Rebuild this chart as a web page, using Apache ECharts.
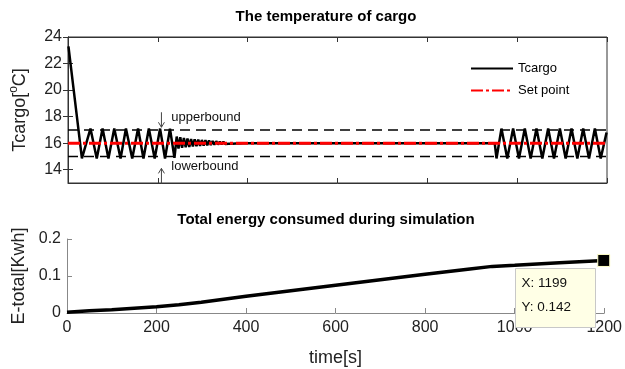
<!DOCTYPE html>
<html>
<head>
<meta charset="utf-8">
<script src="https://cdn.jsdelivr.net/npm/echarts@6/dist/echarts.min.js"></script>
<style>html,body{margin:0;padding:0;background:#fff}#c{width:625px;height:369px}</style>
</head>
<body>
<div id="c"></div>
<script>
// ---- data ----
const tempTime = [1, 31, 50, 64, 77, 90, 103, 117, 129, 143, 156, 168, 180, 193, 205, 216, 227, 237,
  242, 246, 250, 254, 258, 262, 266, 270, 274, 278, 282, 286, 290, 294, 298, 302, 306, 310, 314, 318,
  322, 326, 330, 334, 338, 342, 346, 350, 354, 358, 362, 366, 370, 374, 378, 382, 386, 390, 400,
  950, 954, 965, 978, 991, 1004, 1017, 1030, 1043, 1056, 1069, 1082, 1095, 1108, 1121, 1134, 1147, 1160, 1173, 1186, 1199];
const tempValue = [23.3, 14.85, 17.1, 14.85, 17.1, 14.85, 17.1, 14.85, 17.1, 14.85, 17.1, 14.85, 17.1, 14.85, 17.1, 14.85, 17.1, 14.9,
  16.5, 15.6, 16.45, 15.65, 16.4, 15.7, 16.35, 15.72, 16.32, 15.75, 16.3, 15.78, 16.27, 15.8, 16.24, 15.82, 16.22, 15.84, 16.2, 15.86,
  16.17, 15.88, 16.15, 15.9, 16.12, 15.92, 16.1, 15.94, 16.08, 15.95, 16.06, 15.96, 16.05, 15.97, 16.04, 15.98, 16.02, 15.99, 16.0,
  16.0, 14.85, 17.1, 14.85, 17.1, 14.85, 17.1, 14.85, 17.1, 14.85, 17.1, 14.85, 17.1, 14.85, 17.1, 14.85, 17.1, 14.85, 17.1, 14.85, 16.8];
const setPoint = 16;
const upperBound = 17;
const lowerBound = 15;
const energyTime = [0, 50, 100, 150, 200, 250, 300, 400, 500, 600, 700, 800, 900, 950, 1000, 1100, 1199];
const energyValue = [0.002, 0.006, 0.009, 0.013, 0.017, 0.022, 0.029, 0.045, 0.060, 0.075, 0.090, 0.105, 0.119, 0.126, 0.129, 0.136, 0.142];
const tipPoint = [1199, 0.142];
const tempTicks = [14, 16, 18, 20, 22, 24];
const timeRange = [0, 1200];

const FONT = 'Liberation Sans, Arial, Helvetica, sans-serif';
const chart = echarts.init(document.getElementById('c'), null, {renderer: 'canvas'});
const zip = (a, b) => a.map((v, i) => [v, b[i]]);

const tickStyle = {show: true, inside: true, length: 5, lineStyle: {color: '#333', width: 1}};
const tickStyle2 = {show: true, inside: true, length: 5, lineStyle: {color: '#888', width: 1}};
const plain = v => String(v);

const option = {
  animation: false,
  textStyle: {fontFamily: FONT},
  title: [
    {text: 'The temperature of cargo', left: 326, top: 9, textAlign: 'center', padding: 0,
     textStyle: {fontSize: 15, fontWeight: 'bold', color: '#000', fontFamily: FONT}},
    {text: 'Total energy consumed during simulation', left: 326, top: 212, textAlign: 'center', padding: 0,
     textStyle: {fontSize: 15, fontWeight: 'bold', color: '#000', fontFamily: FONT}}
  ],
  legend: {
    data: ['Tcargo', 'Set point'], orient: 'vertical', left: 470, top: 62,
    itemWidth: 42, itemHeight: 14, itemGap: 9, padding: 0,
    itemStyle: {opacity: 0},
    textStyle: {fontSize: 13, color: '#000', fontFamily: FONT}
  },
  grid: [
    {left: 67, top: 37, width: 540, height: 146, show: true, borderColor: '#333', borderWidth: 1, backgroundColor: 'transparent'},
    {left: 67, top: 239, width: 540, height: 74}
  ],
  xAxis: [
    {type: 'value', gridIndex: 0, position: 'bottom', min: timeRange[0], max: timeRange[1], interval: 200,
     axisLine: {show: true, lineStyle: {color: '#333'}}, axisTick: tickStyle, axisLabel: {show: false}, splitLine: {show: false}},
    {type: 'value', gridIndex: 0, position: 'top', min: timeRange[0], max: timeRange[1], interval: 200,
     axisLine: {show: true, lineStyle: {color: '#333'}}, axisTick: tickStyle, axisLabel: {show: false}, splitLine: {show: false}},
    {type: 'value', gridIndex: 1, position: 'bottom', min: timeRange[0], max: timeRange[1], interval: 200,
     name: 'time[s]', nameLocation: 'middle', nameGap: 36,
     nameTextStyle: {fontSize: 18, color: '#222', fontFamily: FONT},
     axisLine: {show: true, lineStyle: {color: '#888'}}, axisTick: tickStyle2,
     axisLabel: {fontSize: 16, color: '#222', margin: 7, fontFamily: FONT, formatter: plain}, splitLine: {show: false}}
  ],
  yAxis: [
    {type: 'value', gridIndex: 0, position: 'left', min: 13, max: 24,
     name: '{a|Tcargo[}{s|o}{a|C]}', nameLocation: 'middle', nameGap: 35,
     nameTextStyle: {fontSize: 18, color: '#222', fontFamily: FONT,
       rich: {a: {fontSize: 18, color: '#222', fontFamily: FONT}, s: {fontSize: 12, color: '#222', fontFamily: FONT, padding: [0, 0, 13, 0]}}},
     axisLine: {show: true, lineStyle: {color: '#333'}},
     axisTick: Object.assign({customValues: tempTicks}, tickStyle),
     axisLabel: {customValues: tempTicks, fontSize: 16, color: '#222', margin: 6, fontFamily: FONT},
     splitLine: {show: false}},
    {type: 'value', gridIndex: 0, position: 'right', min: 13, max: 24,
     axisLine: {show: true, lineStyle: {color: '#333'}},
     axisTick: Object.assign({customValues: tempTicks}, tickStyle),
     axisLabel: {show: false}, splitLine: {show: false}},
    {type: 'value', gridIndex: 1, position: 'left', min: 0, max: 0.2, interval: 0.1,
     name: 'E-total[Kwh]', nameLocation: 'middle', nameGap: 35,
     nameTextStyle: {fontSize: 18, color: '#222', fontFamily: FONT},
     axisLine: {show: true, lineStyle: {color: '#888'}}, axisTick: tickStyle2,
     axisLabel: {fontSize: 16, color: '#222', margin: 6, fontFamily: FONT, formatter: plain}, splitLine: {show: false}}
  ],
  series: [
    {name: 'upper', type: 'line', xAxisIndex: 0, yAxisIndex: 0, symbol: 'none', silent: true,
     data: [[timeRange[0], upperBound], [timeRange[1], upperBound]],
     lineStyle: {color: '#000', width: 1.5, type: [10, 6]}},
    {name: 'lower', type: 'line', xAxisIndex: 0, yAxisIndex: 0, symbol: 'none', silent: true,
     data: [[timeRange[0], lowerBound], [timeRange[1], lowerBound]],
     lineStyle: {color: '#000', width: 1.5, type: [10, 6]}},
    {name: 'Tcargo', type: 'line', xAxisIndex: 0, yAxisIndex: 0, symbol: 'none',
     data: zip(tempTime, tempValue), itemStyle: {color: '#000'},
     lineStyle: {color: '#000', width: 2.5}},
    {name: 'Set point', type: 'line', xAxisIndex: 0, yAxisIndex: 0, symbol: 'none',
     data: [[timeRange[0], setPoint], [timeRange[1], setPoint]], itemStyle: {color: '#ff0000'},
     lineStyle: {color: '#ff0000', width: 3, type: [12, 3, 3, 3]}},
    {name: 'Energy', type: 'line', xAxisIndex: 2, yAxisIndex: 2, symbol: 'none',
     data: zip(energyTime, energyValue), lineStyle: {color: '#000', width: 3.5},
     markPoint: {symbol: 'rect', symbolSize: 12, silent: true, label: {show: false},
       itemStyle: {color: '#000', borderColor: '#ffffc8', borderWidth: 1},
       data: [{coord: tipPoint}]}}
  ]
};
chart.setOption(option);

// annotations placed from data coordinates
function px(gi, x, y) { return chart.convertToPixel({gridIndex: gi}, [x, y]); }
const gfx = [];
function arrow(x, y1, y2) {
  const a = px(0, x, y1), b = px(0, x, y2);
  const dir = b[1] > a[1] ? -1 : 1;
  gfx.push({type: 'polyline', z: 50, shape: {points: [a, b]}, style: {stroke: '#444', lineWidth: 1, fill: null}});
  gfx.push({type: 'polyline', z: 50, shape: {points: [[b[0] - 3, b[1] + dir * 5], b, [b[0] + 3, b[1] + dir * 5]]},
            style: {stroke: '#444', lineWidth: 1, fill: null}});
}
arrow(208, 18.33, 17.2);
arrow(208, 12.95, 14.1);
const ut = px(0, 230, 17.95), lt = px(0, 230, 14.26);
gfx.push({type: 'text', z: 50, x: ut[0], y: ut[1], style: {text: 'upperbound', fontSize: 13, fontFamily: FONT, fill: '#111', verticalAlign: 'middle'}});
gfx.push({type: 'text', z: 50, x: lt[0], y: lt[1], style: {text: 'lowerbound', fontSize: 13, fontFamily: FONT, fill: '#111', verticalAlign: 'middle'}});
const tp = px(1, tipPoint[0], tipPoint[1]);
const bx = Math.round(tp[0] - 89) + 0.5, by = Math.round(tp[1] + 8) + 0.5;
gfx.push({type: 'rect', z: 60, shape: {x: bx, y: by, width: 80, height: 59}, style: {fill: '#ffffe6', stroke: '#c8c8c8', lineWidth: 1}});
gfx.push({type: 'text', z: 61, x: bx + 6, y: by + 15, style: {text: 'X: ' + tipPoint[0], fontSize: 13.5, fontFamily: FONT, fill: '#111', verticalAlign: 'middle'}});
gfx.push({type: 'text', z: 61, x: bx + 6, y: by + 39, style: {text: 'Y: ' + tipPoint[1], fontSize: 13.5, fontFamily: FONT, fill: '#111', verticalAlign: 'middle'}});
chart.setOption({graphic: gfx});
</script>
</body>
</html>
